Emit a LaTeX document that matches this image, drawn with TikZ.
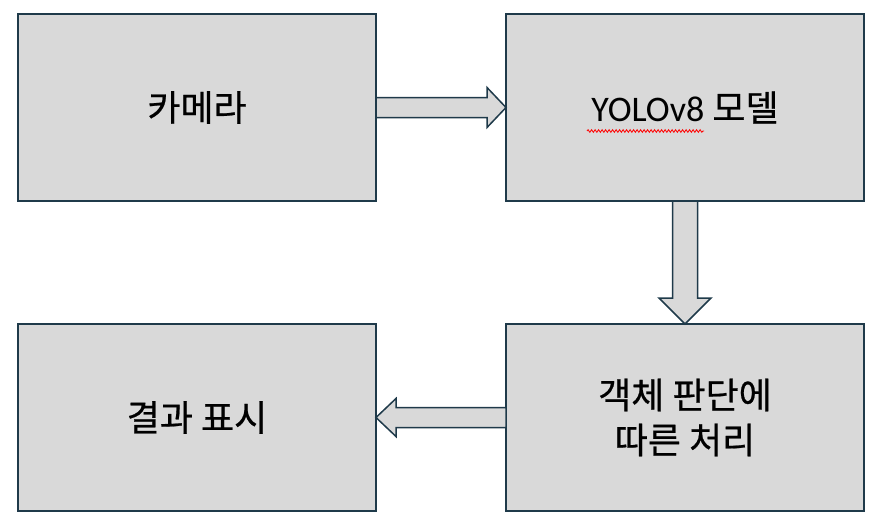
\documentclass[tikz,border=0pt]{standalone}
\usepackage{fontspec}
\setmainfont{Noto Sans CJK KR}[RawFeature={embolden=0.6}]
\newfontfamily\latinfont{Carlito}
\usetikzlibrary{positioning,decorations.pathmorphing}

\definecolor{boxline}{HTML}{1F3A4A}
\definecolor{boxfill}{HTML}{D9D9D9}

\tikzset{
    stage/.style={draw=boxline, fill=boxfill, line width=2pt, outer sep=0pt,
        minimum width=358pt, minimum height=187pt, align=center,
        font=\fontsize{36}{45}\selectfont},
    blockarrow/.style={draw=boxline, fill=boxfill, line width=1.5pt, line join=miter}
}

\begin{document}
\begin{tikzpicture}[x=1pt, y=1pt]
    \useasboundingbox (0, 0) rectangle (887, -530);

    % The four stages
    \node[stage] (camera) at (197, -107.5) {카메라};
    \node[stage, right=130pt of camera] (yolo) {{\latinfont YOLOv8} 모델};
    \node[stage, below=123pt of yolo] (process) {객체 판단에\\따른 처리};
    \node[stage, left=130pt of process] (result) {결과 표시};

    % Spell check underline below YOLOv8
    \draw[red, line width=0.8pt, decorate,
        decoration={snake, amplitude=1.3pt, segment length=3.5pt}]
        (587, -131) -- (704, -131);

    % Camera -> YOLOv8
    \draw[blockarrow] ([yshift=10pt]camera.east)
        -- ([xshift=-19pt, yshift=10pt]yolo.west)
        -- ([xshift=-19pt, yshift=20pt]yolo.west)
        -- (yolo.west)
        -- ([xshift=-19pt, yshift=-20pt]yolo.west)
        -- ([xshift=-19pt, yshift=-10pt]yolo.west)
        -- ([yshift=-10pt]camera.east) -- cycle;

    % YOLOv8 -> processing
    \draw[blockarrow] ([xshift=-12.5pt]yolo.south)
        -- ([xshift=-12.5pt, yshift=26pt]process.north)
        -- ([xshift=-26pt, yshift=26pt]process.north)
        -- (process.north)
        -- ([xshift=26pt, yshift=26pt]process.north)
        -- ([xshift=12.5pt, yshift=26pt]process.north)
        -- ([xshift=12.5pt]yolo.south) -- cycle;

    % Processing -> result
    \draw[blockarrow] ([yshift=10pt]process.west)
        -- ([xshift=20pt, yshift=10pt]result.east)
        -- ([xshift=20pt, yshift=19pt]result.east)
        -- (result.east)
        -- ([xshift=20pt, yshift=-19pt]result.east)
        -- ([xshift=20pt, yshift=-10pt]result.east)
        -- ([yshift=-10pt]process.west) -- cycle;
\end{tikzpicture}
\end{document}
